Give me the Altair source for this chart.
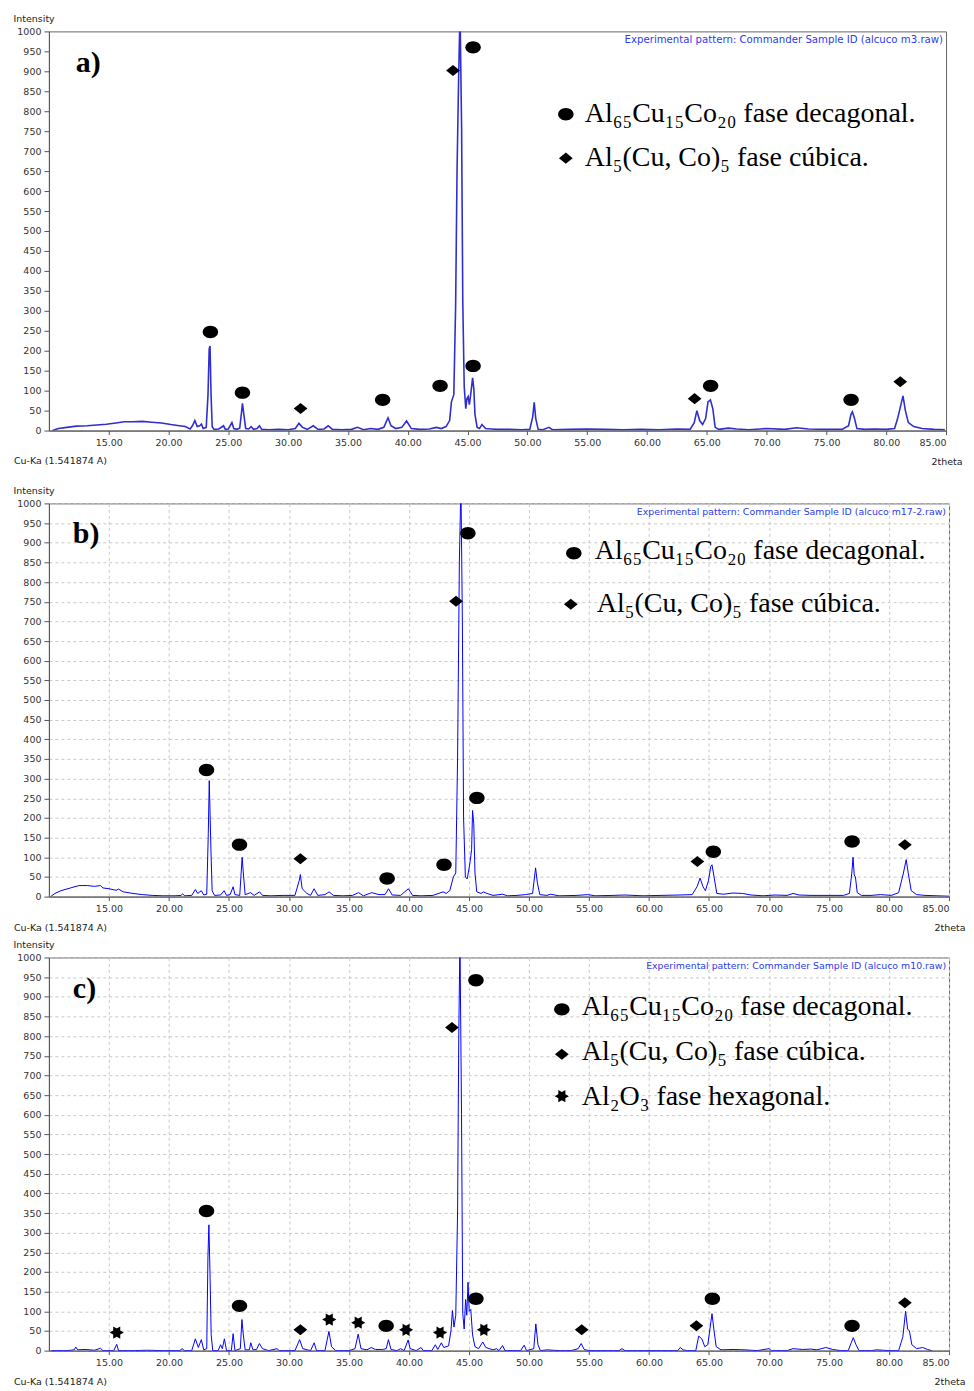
import altair as alt
import pandas as pd

# ---------------- data ----------------
X_TICKS = [15, 20, 25, 30, 35, 40, 45, 50, 55, 60, 65, 70, 75, 80, 85]
Y_TICKS = list(range(0, 1001, 50))

PATTERN_A = [
    (10.3, 0), (10.8, 5), (11.5, 8), (12.3, 11), (13.2, 12), (14.0, 14), (14.8, 16), (15.6, 19),
    (16.3, 22), (17.0, 22), (17.8, 23), (18.6, 21), (19.4, 19), (20.2, 15), (20.9, 12), (21.4, 10),
    (21.8, 4), (22.0, 12), (22.2, 25), (22.4, 10), (22.6, 12), (22.75, 16), (22.9, 5), (23.15, 8),
    (23.3, 90), (23.4, 205), (23.47, 212), (23.55, 95), (23.65, 10), (23.8, 3), (24.2, 4), (24.6, 12),
    (24.75, 3), (25.0, 4), (25.3, 20), (25.45, 5), (25.7, 3), (25.95, 6), (26.1, 45), (26.18, 68),
    (26.3, 40), (26.45, 5), (26.7, 4), (26.9, 10), (27.1, 3), (27.4, 5), (27.6, 12), (27.8, 3),
    (28.4, 2), (29.2, 3), (30.0, 2), (30.6, 5), (30.9, 18), (31.2, 8), (31.6, 3), (32.1, 12),
    (32.5, 3), (33.0, 4), (33.35, 12), (33.7, 3), (34.5, 2), (35.3, 3), (35.8, 8), (36.3, 2),
    (36.9, 5), (37.5, 3), (38.0, 8), (38.35, 32), (38.6, 12), (39.0, 5), (39.5, 8), (39.9, 24),
    (40.3, 5), (41.0, 3), (41.8, 4), (42.4, 8), (42.8, 5), (43.2, 10), (43.5, 25), (43.65, 72),
    (43.85, 90), (44.0, 310), (44.12, 650), (44.25, 880), (44.37, 1050), (44.5, 760), (44.6, 320),
    (44.72, 110), (44.85, 55), (44.95, 80), (45.05, 85), (45.15, 65), (45.28, 95), (45.42, 132),
    (45.52, 105), (45.62, 40), (45.8, 8), (46.0, 5), (46.2, 15), (46.5, 5), (47.0, 4), (47.5, 3),
    (48.5, 3), (49.5, 2), (50.2, 3), (50.45, 35), (50.57, 71), (50.7, 30), (50.9, 3), (51.3, 2),
    (51.8, 8), (52.1, 2), (53.5, 3), (55.0, 4), (56.5, 3), (58.0, 2), (59.5, 3), (61.0, 2),
    (62.5, 4), (63.6, 3), (63.95, 20), (64.17, 50), (64.4, 25), (64.65, 15), (64.9, 30), (65.1, 72),
    (65.3, 77), (65.5, 55), (65.7, 8), (66.0, 3), (66.8, 6), (67.5, 4), (68.5, 2), (70.0, 5),
    (71.5, 3), (72.5, 7), (73.5, 4), (75.0, 3), (76.3, 3), (76.85, 12), (77.05, 40), (77.17, 47),
    (77.35, 30), (77.55, 5), (78.2, 3), (79.0, 4), (80.0, 3), (80.7, 5), (80.95, 30), (81.15, 55),
    (81.4, 87), (81.6, 50), (81.85, 20), (82.3, 10), (83.0, 5), (84.0, 3), (84.9, 2),
]

PATTERN_B = [
    (10.15, 0), (10.5, 8), (11.0, 15), (11.8, 22), (12.5, 28), (13.2, 28), (13.8, 26), (14.3, 28),
    (14.5, 22), (15.0, 20), (15.6, 16), (15.8, 19), (16.2, 12), (17.0, 8), (17.8, 5), (18.6, 3),
    (19.5, 2), (20.5, 2), (21.0, 3), (21.15, 7), (21.3, 2), (21.9, 3), (22.2, 18), (22.4, 8),
    (22.7, 15), (22.9, 4), (23.15, 6), (23.28, 160), (23.36, 295), (23.42, 220), (23.5, 120),
    (23.6, 15), (23.8, 3), (24.3, 4), (24.6, 15), (24.8, 3), (25.1, 5), (25.35, 25), (25.5, 5),
    (25.9, 3), (26.1, 100), (26.2, 60), (26.35, 5), (26.8, 10), (27.1, 3), (27.55, 12), (27.8, 3),
    (28.5, 2), (29.5, 3), (30.5, 3), (30.85, 40), (30.95, 56), (31.1, 20), (31.5, 8), (31.8, 3),
    (32.1, 20), (32.4, 3), (33.0, 5), (33.35, 12), (33.7, 3), (34.5, 2), (35.3, 3), (35.8, 10),
    (36.2, 2), (36.9, 10), (37.5, 5), (38.0, 5), (38.3, 20), (38.6, 4), (39.3, 3), (39.95, 20),
    (40.3, 3), (41.0, 2), (42.0, 3), (42.85, 12), (43.1, 8), (43.4, 15), (43.7, 50), (43.9, 60),
    (44.05, 350), (44.2, 850), (44.33, 1050), (44.45, 700), (44.55, 200), (44.7, 50), (44.85, 45),
    (45.0, 70), (45.1, 90), (45.22, 120), (45.3, 219), (45.4, 185), (45.5, 60), (45.65, 12),
    (46.0, 8), (46.2, 12), (46.5, 8), (47.0, 3), (47.8, 6), (48.2, 2), (49.0, 3), (49.7, 5),
    (50.3, 8), (50.55, 73), (50.7, 35), (50.9, 5), (51.5, 3), (51.8, 6), (52.5, 2), (54.0, 3),
    (54.9, 5), (55.5, 2), (57.0, 3), (58.0, 4), (59.5, 2), (61.0, 3), (62.5, 4), (63.6, 5),
    (64.0, 25), (64.26, 47), (64.5, 25), (64.7, 15), (64.95, 40), (65.15, 77), (65.25, 81),
    (65.45, 45), (65.65, 8), (66.2, 6), (67.0, 9), (67.8, 8), (68.5, 4), (69.5, 2), (70.5, 4),
    (71.5, 3), (72.0, 8), (72.5, 4), (73.5, 3), (75.0, 3), (76.2, 3), (76.7, 8), (76.9, 60),
    (77.0, 100), (77.1, 55), (77.2, 50), (77.35, 10), (77.7, 3), (78.5, 3), (79.3, 5), (80.2, 3),
    (80.8, 10), (81.0, 35), (81.2, 60), (81.43, 94), (81.6, 60), (81.85, 15), (82.3, 5), (83.0, 3),
    (84.0, 2), (85.0, 1),
]

PATTERN_C = [
    (10.2, 0), (11.5, 0), (12.1, 2), (12.24, 9), (12.4, 2), (13.0, 3), (13.8, 1), (14.3, 6),
    (14.5, 0), (15.4, 0), (15.65, 16), (15.8, 0), (17.0, 0), (18.2, 1), (19.5, 0), (20.9, 0),
    (21.1, 5), (21.3, 0), (21.9, 0), (22.2, 30), (22.45, 8), (22.7, 28), (22.9, 2), (23.15, 5),
    (23.25, 238), (23.33, 320), (23.42, 200), (23.52, 40), (23.65, 0), (24.1, 0), (24.3, 15),
    (24.45, 5), (24.62, 30), (24.8, 0), (25.2, 0), (25.35, 43), (25.5, 0), (25.95, 5), (26.08, 79),
    (26.2, 40), (26.35, 2), (26.7, 2), (26.82, 20), (27.0, 2), (27.3, 3), (27.54, 18), (27.8, 5),
    (28.3, 0), (29.0, 5), (29.2, 0), (30.5, 0), (30.89, 28), (31.15, 5), (31.8, 0), (32.1, 20),
    (32.3, 0), (33.0, 0), (33.33, 49), (33.55, 10), (33.9, 0), (35.0, 0), (35.5, 5), (35.77, 42),
    (36.0, 5), (36.5, 2), (36.85, 8), (37.2, 3), (37.8, 3), (38.1, 5), (38.29, 28), (38.5, 3),
    (39.0, 0), (39.3, 5), (39.6, 0), (39.93, 27), (40.1, 5), (40.6, 0), (41.0, 8), (41.2, 0),
    (41.9, 0), (42.2, 15), (42.4, 3), (42.7, 20), (42.9, 8), (43.3, 12), (43.5, 50), (43.62, 102),
    (43.75, 60), (43.9, 90), (44.05, 350), (44.15, 800), (44.25, 1050), (44.38, 600), (44.48, 95),
    (44.6, 55), (44.72, 130), (44.82, 90), (44.92, 174), (45.02, 100), (45.15, 105), (45.3, 40),
    (45.5, 10), (45.8, 5), (46.15, 22), (46.4, 8), (46.7, 5), (47.0, 2), (47.3, 5), (47.5, 0),
    (47.8, 13), (48.0, 0), (49.3, 0), (49.6, 14), (49.8, 0), (50.4, 5), (50.57, 68), (50.75, 15),
    (50.95, 0), (51.5, 2), (52.5, 0), (53.5, 0), (54.1, 5), (54.35, 18), (54.6, 3), (55.0, 0),
    (57.5, 0), (57.75, 5), (58.0, 0), (60.0, 0), (62.4, 0), (62.6, 8), (62.85, 2), (63.2, 0),
    (63.9, 0), (64.14, 37), (64.4, 30), (64.65, 10), (64.9, 15), (65.1, 60), (65.25, 94),
    (65.4, 55), (65.6, 10), (66.0, 2), (67.0, 3), (68.0, 2), (69.0, 0), (70.0, 5), (70.2, 0),
    (71.5, 0), (72.0, 5), (72.8, 3), (73.5, 4), (74.0, 2), (74.73, 8), (75.3, 3), (76.0, 0),
    (76.6, 0), (76.85, 20), (77.02, 33), (77.25, 15), (77.5, 0), (78.5, 0), (79.0, 2), (80.0, 0),
    (80.8, 0), (81.0, 20), (81.15, 35), (81.38, 100), (81.55, 55), (81.7, 50), (81.9, 15),
    (82.3, 5), (82.8, 8), (83.2, 3), (83.57, 0),
]

# phase markers: (2theta, intensity, phase)
MARKERS_A = [
    (23.5, 247, "dec"), (26.18, 95, "dec"), (31.04, 55, "cub"), (37.9, 77, "dec"),
    (42.7, 112, "dec"), (43.78, 902, "cub"), (45.46, 960, "dec"), (45.46, 162, "dec"),
    (63.98, 80, "cub"), (65.32, 112, "dec"), (77.06, 77, "dec"), (81.17, 122, "cub"),
]
MARKERS_B = [
    (23.13, 322, "dec"), (25.88, 132, "dec"), (30.95, 96, "cub"), (38.18, 46, "dec"),
    (42.92, 81, "dec"), (43.92, 751, "cub"), (44.91, 924, "dec"), (45.66, 251, "dec"),
    (64.03, 89, "cub"), (65.36, 114, "dec"), (76.92, 140, "dec"), (81.32, 132, "cub"),
]
MARKERS_C = [
    (15.65, 46, "hex"), (23.13, 355, "dec"), (25.88, 114, "dec"), (30.95, 53, "cub"),
    (33.36, 79, "hex"), (35.77, 71, "hex"), (38.1, 63, "dec"), (39.76, 53, "hex"),
    (42.59, 46, "hex"), (43.58, 822, "cub"), (45.58, 942, "dec"), (45.58, 132, "dec"),
    (46.24, 53, "hex"), (54.39, 53, "cub"), (63.95, 63, "cub"), (65.28, 132, "dec"),
    (76.92, 63, "dec"), (81.32, 122, "cub"),
]

LEGEND_TEXT = {
    "dec": "Al₆₅Cu₁₅Co₂₀ fase decagonal.",
    "cub": "Al₅(Cu, Co)₅ fase cúbica.",
    "hex": "Al₂O₃ fase hexagonal.",
}
SAMPLES = ["alcuco m3.raw", "alcuco m17-2.raw", "alcuco m10.raw"]
LABELS = ["a)", "b)", "c)"]

# ---------------- styling ----------------
SHAPES = {
    "dec": "M-1,0C-1,-0.442,-0.552,-0.8,0,-0.8C0.552,-0.8,1,-0.442,1,0C1,0.442,0.552,0.8,0,0.8C-0.552,0.8,-1,0.442,-1,0Z",
    "cub": "M-1,0L0,-0.8L1,0L0,0.8Z",
    "hex": "M-1,0L0.5,-0.866L0.5,0.866Z M1,0L-0.5,0.866L-0.5,-0.866Z",
}
SIZES = {"dec": 240, "cub": 190, "hex": 200}
AXIS_FONT = "DejaVu Sans"
SERIF = "Liberation Serif"


def one_row():
    return pd.DataFrame({"k": [0]})


def panel(pattern, markers, legend_items, label, label_pos, sample, sample_size,
          w, h, grid, line_color, line_w, spacer):
    xs = alt.Scale(domain=[10, 85], nice=False, zero=False)
    ys = alt.Scale(domain=[0, 1000], nice=False)
    common = dict(labelFont=AXIS_FONT, labelFontSize=9.5, labelColor="#333",
                  titleFont=AXIS_FONT, titleFontSize=9.5, titleColor="#222",
                  titleFontWeight="normal", domainColor="#555", tickColor="#555",
                  labelOverlap=False, grid=grid, gridDash=[3, 3], gridColor="#c8c8c8",
                  gridWidth=1)
    xaxis = alt.Axis(values=X_TICKS, format=".2f", title="2theta", titleAlign="right",
                     titleBaseline="middle", titleX=w + 16, titleY=31, tickSize=4,
                     labelPadding=3, **common)
    yaxis = alt.Axis(values=Y_TICKS, format="d", title="Intensity", titleAngle=0,
                     titleAlign="left", titleBaseline="middle", titleX=-36, titleY=-13,
                     tickSize=5, labelPadding=3, **common)

    df = pd.DataFrame(pattern, columns=["two_theta", "intensity"])
    layers = [
        alt.Chart(df).mark_line(clip=True, color=line_color, strokeWidth=line_w,
                                interpolate="linear").encode(
            x=alt.X("two_theta:Q", scale=xs, axis=xaxis),
            y=alt.Y("intensity:Q", scale=ys, axis=yaxis),
        )
    ]
    mdf = pd.DataFrame(markers, columns=["two_theta", "intensity", "phase"])
    for ph in ["dec", "cub", "hex"]:
        sub = mdf[mdf.phase == ph]
        if len(sub) == 0:
            continue
        layers.append(
            alt.Chart(sub).mark_point(shape=SHAPES[ph], filled=True, size=SIZES[ph],
                                      color="black", opacity=1).encode(
                x=alt.X("two_theta:Q", scale=xs, axis=xaxis),
                y=alt.Y("intensity:Q", scale=ys, axis=yaxis),
            )
        )
    # legend inside the plot
    for ph, mx, my, tx, ty in legend_items:
        layers.append(
            alt.Chart(one_row()).mark_point(shape=SHAPES[ph], filled=True, size=SIZES[ph],
                                            color="black", opacity=1).encode(
                x=alt.value(mx), y=alt.value(my))
        )
        layers.append(
            alt.Chart(one_row()).mark_text(text=LEGEND_TEXT[ph], font=SERIF, fontSize=28,
                                           align="left", baseline="middle", color="black").encode(
                x=alt.value(tx), y=alt.value(ty))
        )
    # panel letter
    layers.append(
        alt.Chart(one_row()).mark_text(text=label, font=SERIF, fontSize=30, fontWeight="bold",
                                       align="left", baseline="middle", color="black").encode(
            x=alt.value(label_pos[0]), y=alt.value(label_pos[1]))
    )
    # sample id
    layers.append(
        alt.Chart(one_row()).mark_text(text=f"Experimental pattern: Commander Sample ID ({sample})",
                                       font=AXIS_FONT, fontSize=sample_size, align="right",
                                       baseline="middle", color="#2c3cf0").encode(
            x=alt.value(w - 3), y=alt.value(9))
    )
    # wavelength note
    layers.append(
        alt.Chart(one_row()).mark_text(text="Cu-Ka (1.541874 A)", font=AXIS_FONT, fontSize=9.5,
                                       align="left", baseline="middle", color="#222").encode(
            x=alt.value(-35), y=alt.value(h + 31))
    )
    if spacer:
        layers.append(
            alt.Chart(one_row()).mark_text(text=".", font=AXIS_FONT, fontSize=10, opacity=0,
                                           align="left", baseline="bottom").encode(
                x=alt.value(0), y=alt.value(h + spacer))
        )
    return alt.layer(*layers).properties(width=w, height=h)


pa = panel(PATTERN_A, MARKERS_A,
           [("dec", 518, 83, 537, 83), ("cub", 518, 127, 537, 127)],
           LABELS[0], (27, 32), SAMPLES[0], 10.2, 899, 400, False, "#2f2fd0", 1.6, 47)
pb = panel(PATTERN_B, MARKERS_B,
           [("dec", 526, 50, 547, 48), ("cub", 523, 101, 549, 101)],
           LABELS[1], (24, 31), SAMPLES[1], 9.4, 902, 394, True, "#0000ff", 1.0, 0)
pc = panel(PATTERN_C, MARKERS_C,
           [("dec", 514, 52, 534, 50), ("cub", 514, 97, 534, 95), ("hex", 514, 139, 534, 140)],
           LABELS[2], (24, 32), SAMPLES[2], 9.4, 902, 394, True, "#0000ff", 1.0, 0)

chart = alt.vconcat(pa, pb, pc, spacing=6).properties(
    padding={"left": 4, "top": 3, "right": 0, "bottom": 0},
    background="white",
).configure_view(stroke="#666", strokeWidth=1)

chart.save("out.html", embed_options={"renderer": "svg", "actions": False})
